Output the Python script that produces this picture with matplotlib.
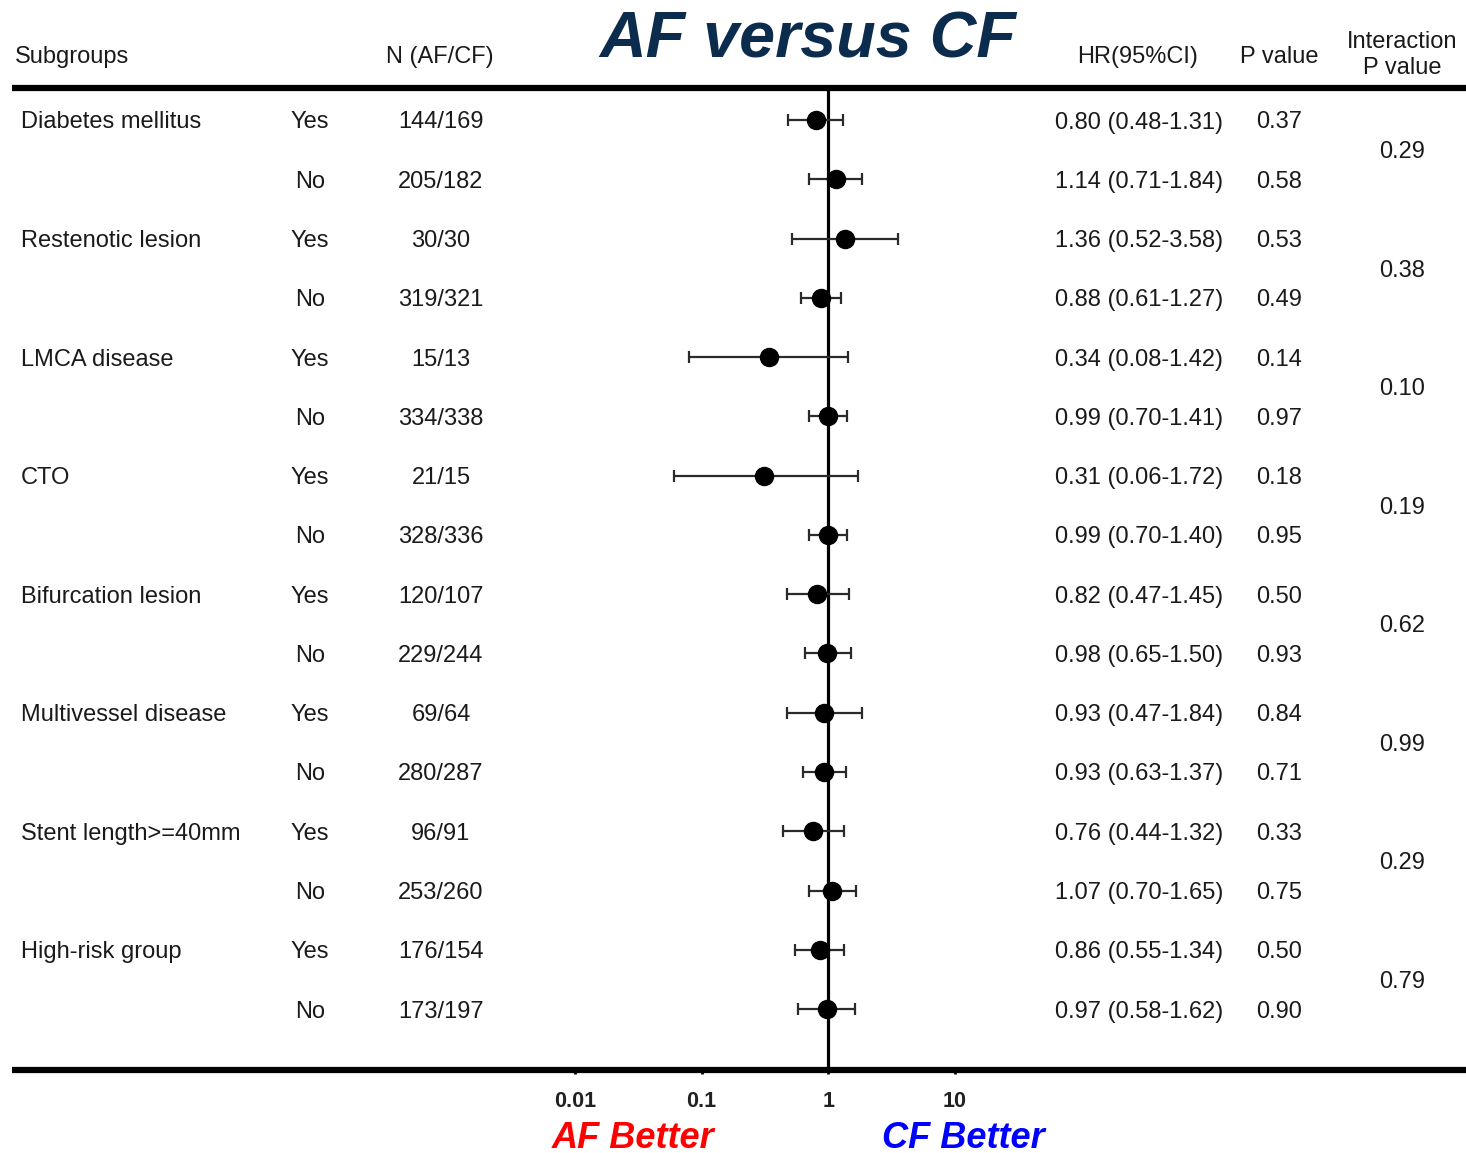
import matplotlib
matplotlib.use("Agg")
import matplotlib.pyplot as plt
from matplotlib.transforms import blended_transform_factory

# ---------------- data ----------------
groups = ["Diabetes mellitus", "Restenotic lesion", "LMCA disease", "CTO",
          "Bifurcation lesion", "Multivessel disease", "Stent length>=40mm",
          "High-risk group"]
levels = ["Yes", "No"]
n_af_cf = ["144/169", "205/182", "30/30", "319/321", "15/13", "334/338",
           "21/15", "328/336", "120/107", "229/244", "69/64", "280/287",
           "96/91", "253/260", "176/154", "173/197"]
hr = [0.80, 1.14, 1.36, 0.88, 0.34, 0.99, 0.31, 0.99,
      0.82, 0.98, 0.93, 0.93, 0.76, 1.07, 0.86, 0.97]
ci_lo = [0.48, 0.71, 0.52, 0.61, 0.08, 0.70, 0.06, 0.70,
         0.47, 0.65, 0.47, 0.63, 0.44, 0.70, 0.55, 0.58]
ci_hi = [1.31, 1.84, 3.58, 1.27, 1.42, 1.41, 1.72, 1.40,
         1.45, 1.50, 1.84, 1.37, 1.32, 1.65, 1.34, 1.62]
p_vals = [0.37, 0.58, 0.53, 0.49, 0.14, 0.97, 0.18, 0.95,
          0.50, 0.93, 0.84, 0.71, 0.33, 0.75, 0.50, 0.90]
p_inter = [0.29, 0.38, 0.10, 0.19, 0.62, 0.99, 0.29, 0.79]
x_ticks = [0.01, 0.1, 1, 10]
x_tick_labels = ["0.01", "0.1", "1", "10"]

# ---------------- layout ----------------
W, H = 1466, 1153
plt.rcParams['font.family'] = ['Liberation Sans', 'DejaVu Sans']
fig = plt.figure(figsize=(W / 100, H / 100), dpi=100)

# canvas axes in pixel units
ax = fig.add_axes([0, 0, 1, 1])
ax.set_xlim(0, W)
ax.set_ylim(H, 0)
ax.axis("off")

# forest axes
row0, pitch = 120.0, 59.27
top_px, bot_px = 88, 1070
left_px, right_px = 575, 955
ax2 = fig.add_axes([left_px / W, (H - bot_px) / H,
                    (right_px - left_px) / W, (bot_px - top_px) / H])
ax2.set_xscale("log")
ax2.set_xlim(0.01, 10)
ax2.set_ylim((bot_px - row0) / pitch, (top_px - row0) / pitch)
ax2.patch.set_visible(False)
for s in ax2.spines.values():
    s.set_visible(False)
ax2.set_yticks([])
ax2.set_xticks(x_ticks)
ax2.set_xticklabels(x_tick_labels, fontsize=15.5, fontweight="bold", color="#222222")
ax2.minorticks_off()
ax2.tick_params(axis="x", length=3, width=2, pad=12, color="black")

rows = list(range(len(hr)))
xerr = [[h - l for h, l in zip(hr, ci_lo)], [u - h for h, u in zip(hr, ci_hi)]]
ax2.axvline(1, color="black", lw=2.3, zorder=1)
ax2.errorbar(hr, rows, xerr=xerr, fmt="o", color="black", ecolor="#2a2a2a",
             elinewidth=1.6, capsize=4, capthick=1.6, markersize=13, zorder=3,
             clip_on=False)

# horizontal rules
ax.plot([12, W], [top_px, top_px], color="black", lw=4.5, solid_capstyle="butt")
ax.plot([12, W], [bot_px, bot_px], color="black", lw=4.5, solid_capstyle="butt")

tr = blended_transform_factory(ax.transData, ax2.transData)
txt_col = "#1a1a1a"
fs = 17
dy = 2.5 / pitch  # small downward nudge of row text

# headers
ax.text(15, 57, "Subgroups", fontsize=fs, color=txt_col, va="center", ha="left")
ax.text(440, 57, "N (AF/CF)", fontsize=fs, color=txt_col, va="center", ha="center")
ax.text(1138, 57, "HR(95%CI)", fontsize=fs, color=txt_col, va="center", ha="center")
ax.text(1279, 57, "P value", fontsize=fs, color=txt_col, va="center", ha="center")
ax.text(1402, 55, "Interaction\nP value", fontsize=fs, color=txt_col, va="center",
        ha="center", linespacing=1.2)
ax.text(808, 40, "AF versus CF", fontsize=46.5, fontweight="bold", fontstyle="italic",
        color="#0c2c4e", va="center", ha="center")

# rows
for gi, g in enumerate(groups):
    r_yes = 2 * gi
    ax.text(21, r_yes + dy, g, transform=tr, fontsize=fs, color=txt_col,
            va="center", ha="left")
    ax.text(1402, r_yes + 0.5 + dy, f"{p_inter[gi]:.2f}", transform=tr, fontsize=fs,
            color=txt_col, va="center", ha="center")
    for li, lev in enumerate(levels):
        ax.text(310, r_yes + li + dy, lev, transform=tr, fontsize=fs, color=txt_col,
                va="center", ha="center")

for r in rows:
    ax.text(441, r + dy, n_af_cf[r], transform=tr, fontsize=fs, color=txt_col,
            va="center", ha="center")
    ax.text(1055, r + dy, f"{hr[r]:.2f} ({ci_lo[r]:.2f}-{ci_hi[r]:.2f})", transform=tr,
            fontsize=fs, color=txt_col, va="center", ha="left")
    ax.text(1279, r + dy, f"{p_vals[r]:.2f}", transform=tr, fontsize=fs, color=txt_col,
            va="center", ha="center")

# bottom labels
ax.text(633, 1138, "AF Better", fontsize=26, fontweight="bold", fontstyle="italic",
        color="#ff0000", va="center", ha="center")
ax.text(963, 1138, "CF Better", fontsize=26, fontweight="bold", fontstyle="italic",
        color="#0000ff", va="center", ha="center")

fig.savefig("out.png", dpi=100, facecolor="white")
